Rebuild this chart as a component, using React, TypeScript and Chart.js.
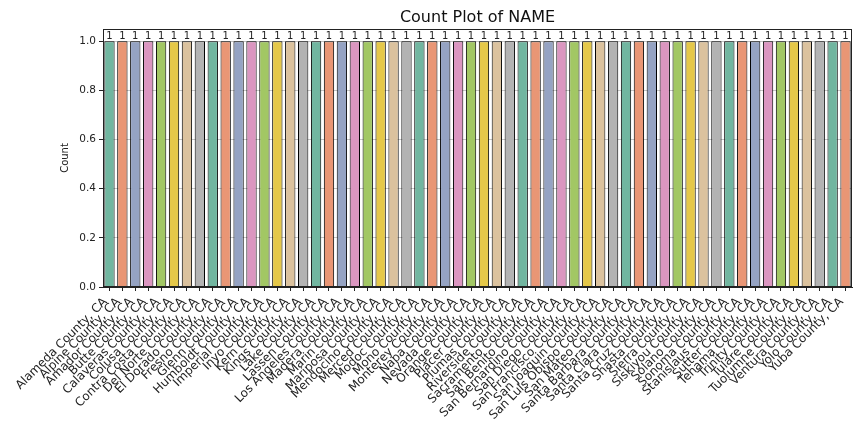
import React, { useEffect, useRef } from "react";
import { Chart, registerables } from "chart.js";

Chart.register(...registerables);

const counties: string[] = [
  "Alameda County, CA", "Alpine County, CA", "Amador County, CA", "Butte County, CA",
  "Calaveras County, CA", "Colusa County, CA", "Contra Costa County, CA", "Del Norte County, CA",
  "El Dorado County, CA", "Fresno County, CA", "Glenn County, CA", "Humboldt County, CA",
  "Imperial County, CA", "Inyo County, CA", "Kern County, CA", "Kings County, CA",
  "Lake County, CA", "Lassen County, CA", "Los Angeles County, CA", "Madera County, CA",
  "Marin County, CA", "Mariposa County, CA", "Mendocino County, CA", "Merced County, CA",
  "Modoc County, CA", "Mono County, CA", "Monterey County, CA", "Napa County, CA",
  "Nevada County, CA", "Orange County, CA", "Placer County, CA", "Plumas County, CA",
  "Riverside County, CA", "Sacramento County, CA", "San Benito County, CA", "San Bernardino County, CA",
  "San Diego County, CA", "San Francisco County, CA", "San Joaquin County, CA", "San Luis Obispo County, CA",
  "San Mateo County, CA", "Santa Barbara County, CA", "Santa Clara County, CA", "Santa Cruz County, CA",
  "Shasta County, CA", "Sierra County, CA", "Siskiyou County, CA", "Solano County, CA",
  "Sonoma County, CA", "Stanislaus County, CA", "Sutter County, CA", "Tehama County, CA",
  "Trinity County, CA", "Tulare County, CA", "Tuolumne County, CA", "Ventura County, CA",
  "Yolo County, CA", "Yuba County, CA",
];

const counts: number[] = counties.map(() => 1);

const yTicks: number[] = [0, 0.2, 0.4, 0.6, 0.8, 1.0];

const palette: string[] = [
  "#71b6a0", "#e99675", "#95a3c3", "#db96c0",
  "#a2c764", "#e5c849", "#dbc29e", "#b3b3b3",
];

const FONT = "'DejaVu Sans', sans-serif";

export default function App() {
  const ref = useRef<HTMLCanvasElement | null>(null);

  useEffect(() => {
    if (!ref.current) return;
    const frame = {
      id: "frame",
      afterDraw(chart: any) {
        const { ctx, chartArea } = chart;
        ctx.save();
        ctx.strokeStyle = "#222";
        ctx.lineWidth = 1;
        ctx.strokeRect(
          Math.round(chartArea.left) + 0.5,
          Math.round(chartArea.top) + 0.5,
          Math.round(chartArea.right - chartArea.left) - 1,
          Math.round(chartArea.bottom - chartArea.top) - 1
        );
        ctx.restore();
      },
    };
    const barLabels = {
      id: "barLabels",
      afterDatasetsDraw(chart: any) {
        const { ctx } = chart;
        const meta = chart.getDatasetMeta(0);
        ctx.save();
        ctx.fillStyle = "#222";
        ctx.font = `10px ${FONT}`;
        ctx.textAlign = "center";
        ctx.textBaseline = "bottom";
        meta.data.forEach((el: any, i: number) => {
          ctx.fillText(String(counts[i]), el.x, el.y);
        });
        ctx.restore();
      },
    };
    const chart = new Chart(ref.current, {
      type: "bar",
      data: {
        labels: counties,
        datasets: [
          {
            data: counts,
            backgroundColor: counts.map((_, i) => palette[i % palette.length]),
            borderColor: "#000",
            borderWidth: 1,
            barPercentage: 0.8,
            categoryPercentage: 1,
          },
        ],
      },
      options: {
        animation: false,
        responsive: false,
        maintainAspectRatio: false,
        layout: { padding: { left: 0, right: 12, top: 0, bottom: 0 } },
        plugins: {
          legend: { display: false },
          tooltip: { enabled: false },
          title: {
            display: true,
            fullSize: false,
            text: "Count Plot of NAME",
            color: "#111",
            font: { family: FONT, size: 16, weight: "normal" },
            padding: { top: 8, bottom: 1.8 },
          },
        },
        scales: {
          x: {
            offset: true,
            grid: {
              display: true,
              drawOnChartArea: false,
              tickLength: 4,
              tickColor: "#222",
              offset: false,
            },
            border: { display: true, color: "#222" },
            ticks: {
              autoSkip: false,
              maxRotation: 45,
              minRotation: 45,
              color: "#222",
              padding: 4,
              labelOffset: -4,
              font: { family: FONT, size: 12 },
            },
            afterFit(scale: any) {
              scale.height = 145;
              scale.paddingLeft = 0;
              scale.paddingRight = 0;
            },
          },
          y: {
            min: 0,
            max: 1.05,
            z: 1,
            afterBuildTicks(scale: any) {
              scale.ticks = yTicks.map((v) => ({ value: v }));
            },
            grid: {
              color: "rgba(150,150,150,0.55)",
              tickColor: "#222",
              tickLength: 4,
              borderDash: [3, 2],
            },
            border: { display: true, color: "#222" },
            ticks: {
              color: "#222",
              padding: 3,
              font: { family: FONT, size: 10.5 },
              callback: (v: any) => Number(v).toFixed(1),
            },
            title: {
              display: true,
              text: "Count",
              color: "#222",
              font: { family: FONT, size: 10 },
              padding: { top: 59, bottom: 6 },
            },
            afterFit(scale: any) {
              scale.width = 103;
            },
          },
        },
      },
      plugins: [frame, barLabels],
    });
    return () => chart.destroy();
  }, []);

  return (
    <div style={{ position: "fixed", left: 0, top: 0, width: 864, height: 432, background: "#fff" }}>
      <canvas ref={ref} width={864} height={432} style={{ width: 864, height: 432 }} />
    </div>
  );
}
